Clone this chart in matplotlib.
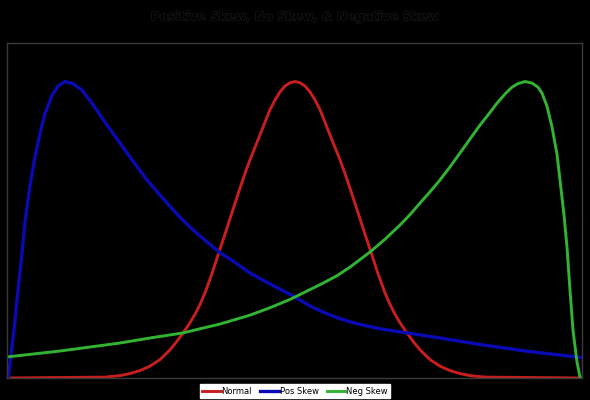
import matplotlib.pyplot as plt
import matplotlib.patheffects as pe

# values (x: 0-100 across plot, y: relative density, peak = 1)
normal_x = [0, 17.04, 19.65, 21.39, 23.13, 24.87, 26.61, 28.35, 29.57, 30.61, 31.65,
            32.70, 33.57, 34.43, 35.65, 36.87, 37.91, 39.65, 40.52, 41.39,
            42.26, 43.13, 44.00, 44.87, 45.74, 46.61, 47.48, 48.35, 49.22, 50.09,
            50.96, 51.83, 52.70, 53.57, 54.43, 55.30, 56.17, 57.04, 57.91, 58.78,
            59.65, 60.52, 62.26, 63.30, 64.52, 65.74, 66.61, 67.48, 68.52, 69.57,
            70.61, 71.83, 73.57, 75.30, 77.04, 78.78, 80.52, 83.13, 100]
normal_y = [0, 0.003, 0.008, 0.015, 0.025, 0.040, 0.062, 0.095, 0.124, 0.152, 0.181,
            0.215, 0.248, 0.287, 0.352, 0.425, 0.485, 0.589, 0.640, 0.690,
            0.736, 0.778, 0.820, 0.863, 0.905, 0.938, 0.965, 0.985, 0.996, 1.0,
            0.996, 0.985, 0.965, 0.938, 0.905, 0.863, 0.820, 0.778, 0.736, 0.690,
            0.640, 0.589, 0.485, 0.425, 0.352, 0.287, 0.248, 0.215, 0.181, 0.152,
            0.124, 0.095, 0.062, 0.040, 0.025, 0.015, 0.008, 0.003, 0]

pos_x = [0.23, 0.52, 1.22, 1.74, 2.43, 3.13, 4.00, 4.87, 5.74, 6.61, 7.83, 8.87,
         10.09, 11.48, 13.04, 14.78, 17.04, 20.87, 22.61, 24.35, 26.61, 27.83,
         29.74, 31.83, 33.57, 36.87, 39.65, 42.26, 45.74, 49.74, 52.70, 54.96,
         57.91, 60.87, 64.87, 69.22, 75.30, 82.26, 90.96, 100]
pos_y = [0, 0.051, 0.162, 0.263, 0.388, 0.526, 0.650, 0.745, 0.825, 0.892, 0.953,
         0.985, 1.0, 0.993, 0.971, 0.927, 0.863, 0.759, 0.713, 0.668, 0.617, 0.590,
         0.549, 0.509, 0.479, 0.425, 0.390, 0.354, 0.317, 0.277, 0.243, 0.222,
         0.200, 0.183, 0.166, 0.153, 0.135, 0.113, 0.089, 0.069]

neg_x = [0, 9.22, 19.65, 24.87, 30.61, 33.57, 37.04, 42.26, 45.74, 49.22, 51.83,
         54.96, 57.39, 59.65, 63.13, 65.74, 68.35, 70.09, 71.83, 73.57, 75.30,
         77.04, 78.78, 80.52, 82.26, 83.65, 85.22, 86.61, 87.83, 88.87,
         90.09, 91.30, 92.35, 93.04, 93.91, 94.78, 95.65, 96.17, 96.87, 97.39,
         97.91, 98.43, 99.13, 99.65]
neg_y = [0.071, 0.091, 0.118, 0.135, 0.152, 0.166, 0.182, 0.212, 0.237, 0.265, 0.290,
         0.320, 0.345, 0.374, 0.425, 0.468, 0.516, 0.551, 0.590, 0.628, 0.668,
         0.712, 0.759, 0.806, 0.853, 0.887, 0.927, 0.958, 0.981, 0.993,
         1.0, 0.995, 0.981, 0.961, 0.917, 0.847, 0.755, 0.668, 0.550, 0.442,
         0.297, 0.162, 0.054, 0.003]

fig = plt.figure(figsize=(5.9, 4), dpi=100, facecolor='black')
ax = fig.add_axes([7 / 590, 22 / 400, 575 / 590, 335 / 400], facecolor='black')

ax.plot(normal_x, normal_y, color='#c81e1e', lw=2.1, label='Normal')
ax.plot(pos_x, pos_y, color='#0a0ab4', lw=2.4, label='Pos Skew')
ax.plot(neg_x, neg_y, color='#32b432', lw=2.1, label='Neg Skew')

ax.set_xlim(0, 100)
ax.set_ylim(0, 1.13)
ax.set_xticks([])
ax.set_yticks([])
for s in ax.spines.values():
    s.set_color('#3a3a3a')
    s.set_linewidth(1)

fig.text(0.5, 1 - 17 / 400, 'Positive Skew, No Skew, & Negative Skew',
         ha='center', va='center', fontsize=8.8, fontweight='bold', color='black',
         path_effects=[pe.withStroke(linewidth=0.8, foreground='#1c1c1c')])

leg = fig.legend(loc='center', bbox_to_anchor=(295 / 590, 1 - 391 / 400), ncol=3,
                 fontsize=6, frameon=True, fancybox=False, handlelength=2.2,
                 handletextpad=0.1, columnspacing=1.0, borderpad=0.3)
leg.get_frame().set_facecolor('white')
leg.get_frame().set_edgecolor('white')
leg.get_frame().set_alpha(1)

fig.savefig('out.png', dpi=100, facecolor='black')
